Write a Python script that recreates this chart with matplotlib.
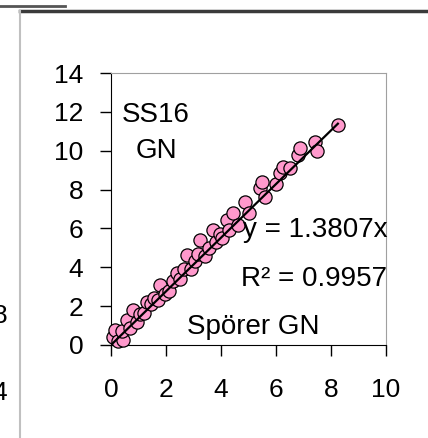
import numpy as np
import matplotlib.pyplot as plt
from matplotlib.lines import Line2D

plt.rcParams['font.family'] = ['Liberation Sans', 'DejaVu Sans']

# Spörer GN (x) vs SS16 GN (y)
sporer_gn = [0.07, 0.15, 0.25, 0.45, 0.4, 0.58, 0.7, 0.8, 0.95, 1.05, 1.2, 1.3,
             1.45, 1.55, 1.7, 1.78, 1.95, 2.1, 2.25, 2.4, 2.5, 2.65, 2.76, 2.9,
             3.05, 3.15, 3.24, 3.4, 3.55, 3.7, 3.8, 3.95, 4.05, 4.2, 4.3, 4.44,
             4.6, 4.87, 5.0, 5.4, 5.5, 5.6, 6.0, 6.15, 6.25, 6.5, 6.8, 6.87,
             7.42, 7.5, 8.25]
ss16_gn = [0.4, 0.77, 0.2, 0.26, 0.7, 1.3, 0.9, 1.8, 1.2, 1.6, 1.65, 2.2,
           2.1, 2.4, 2.3, 3.1, 2.6, 2.8, 3.3, 3.7, 3.4, 3.9, 4.63, 3.9,
           4.3, 4.7, 5.4, 4.6, 5.0, 5.9, 5.3, 5.7, 5.5, 6.43, 5.9, 6.8,
           6.2, 7.36, 6.8, 8.1, 8.4, 7.6, 8.3, 8.85, 9.16, 9.1, 9.78, 10.14,
           10.45, 10.0, 11.32]
slope = 1.3807
r2 = 0.9957

W, H = 428, 438
fig = plt.figure(figsize=(W / 100, H / 100), dpi=100)
ax = fig.add_axes([111 / W, 1 - 345 / H, (386 - 111) / W, (345 - 73) / H])

ax.plot(sporer_gn, ss16_gn, 'o', ms=9.5, mfc='#FF99CC', mec='black', mew=0.9,
        zorder=3, clip_on=False)
xl = np.array([min(sporer_gn), max(sporer_gn)])
ax.plot(xl, slope * xl, 'k-', lw=1.6, zorder=4)

ax.set_xlim(0, 10)
ax.set_ylim(0, 14)
ax.set_xticks(range(0, 11, 2))
ax.set_yticks(range(0, 15, 2))
ax.tick_params(direction='out', length=8, width=1, labelsize=19)
ax.tick_params(axis='x', pad=16)
ax.tick_params(axis='y', pad=12)
for s in ['top', 'right']:
    ax.spines[s].set_color('#a0a0a0')
for s in ['left', 'bottom']:
    ax.spines[s].set_color('black')

ax.text(1.63, 11.49, 'SS16', ha='center', va='baseline', fontsize=20)
ax.text(1.66, 9.62, 'GN', ha='center', va='baseline', fontsize=20)
ax.text(10.04, 5.56, 'y = %.4fx' % slope, ha='right', va='baseline', fontsize=20,
        zorder=5)
ax.text(10.04, 3.04, 'R² = %.4f' % r2, ha='right', va='baseline', fontsize=20)
ax.text(5.16, 0.57, 'Spörer GN', ha='center', va='baseline', fontsize=20)

# fragments of the neighbouring charts
def px(x, y):
    return x / W, 1 - y / H

fig.add_artist(Line2D(*zip(px(0, 5.5), px(65, 5.5)), color='#555555', lw=2))
fig.add_artist(Line2D(*zip(px(20, 10.5), px(428, 10.5)), color='#3a3a3a', lw=2.5))
fig.add_artist(Line2D(*zip(px(20, 11), px(20, 438)), color='#c0c0c0', lw=1.5))
fig.text(*px(7.5, 323), '8', ha='right', va='baseline', fontsize=19)
fig.text(*px(7.5, 400), '4', ha='right', va='baseline', fontsize=19)

fig.savefig('out.png', dpi=100)
